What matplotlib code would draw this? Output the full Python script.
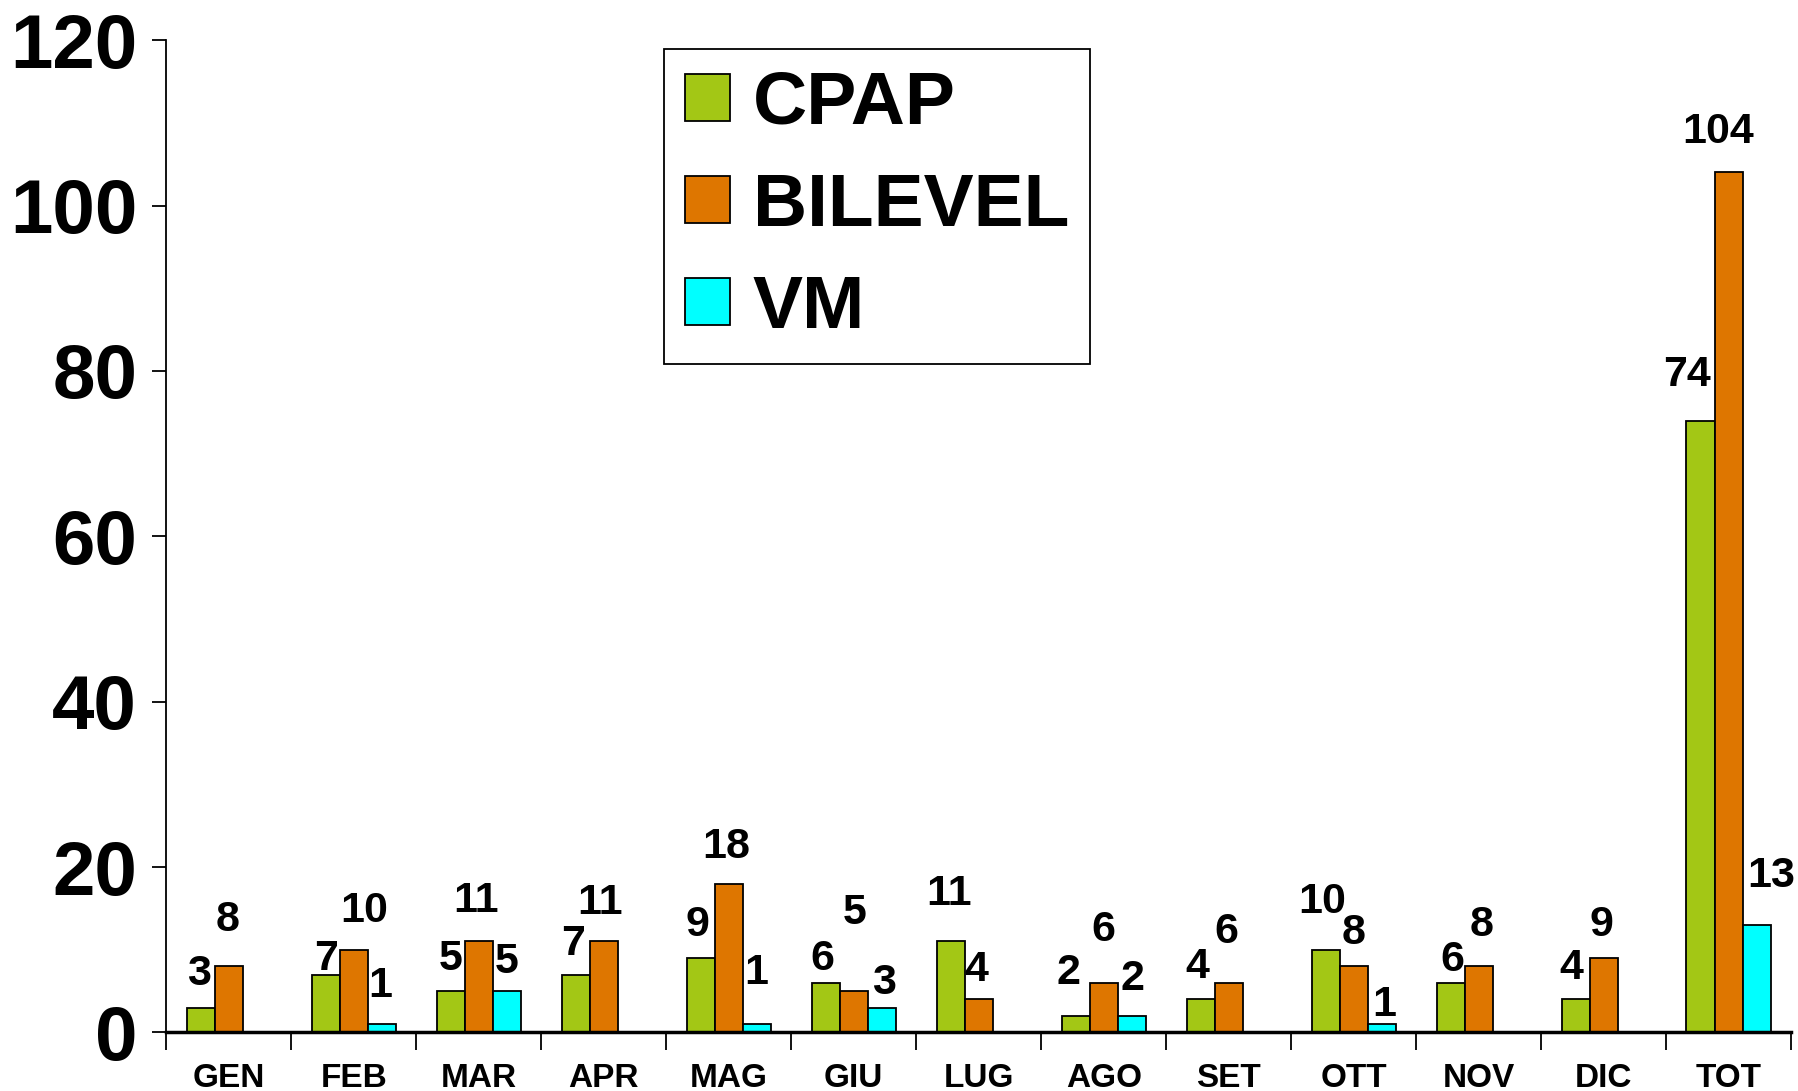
import matplotlib
matplotlib.use("Agg")
import matplotlib.pyplot as plt
import numpy as np

months = ["GEN", "FEB", "MAR", "APR", "MAG", "GIU", "LUG", "AGO", "SET", "OTT", "NOV", "DIC", "TOT"]
cpap = [3, 7, 5, 7, 9, 6, 11, 2, 4, 10, 6, 4, 74]
bilevel = [8, 10, 11, 11, 18, 5, 4, 6, 6, 8, 8, 9, 104]
vm = [0, 1, 5, 0, 1, 3, 0, 2, 0, 1, 0, 0, 13]
series_names = ["CPAP", "BILEVEL", "VM"]
y_ticks = [0, 20, 40, 60, 80, 100, 120]

# styling: data-label nudges (pixels) relative to each bar top, as placed in the original chart
label_dy = [
    [34, 16, 32, 31, 33, 24, 47, 43, 32, 48, 23, 31, 46],
    [46, 39, 40, 38, 37, 78, 29, 53, 51, 33, 41, 33, 40],
    [0, 38, 29, 0, 51, 25, 0, 37, 0, 19, 0, 0, 49],
]
label_dx = [
    [-2, 0, 0, -3, -3, -3, -2, -7, -3, -3, 2, -4, -14],
    [-1, 10, -3, -4, -3, 1, -2, 0, -2, 0, 3, -2, -11],
    [0, -2, 0, 0, -1, 2, 0, 1, 0, 2, 0, 0, 14],
]

colors = ["#A3C715", "#DE7600", "#00FFFF"]

plt.rcParams['font.family'] = ['Liberation Sans', 'DejaVu Sans']
plt.rcParams['font.weight'] = 'bold'

DPI = 100
PX = 72.0 / DPI  # points per pixel

fig = plt.figure(figsize=(17.98, 10.91), dpi=DPI)
ax = fig.add_axes([0.0925, 0.0537, 0.9037, 0.9095])

x = np.arange(len(months))
w = 0.225
for i, (vals, name, col) in enumerate(zip([cpap, bilevel, vm], series_names, colors)):
    pos = x + (i - 1) * w
    idx = [k for k, v in enumerate(vals) if v > 0]
    pv = [pos[k] for k in idx]
    vv = [vals[k] for k in idx]
    ax.bar(pv, vv, width=w, color=col, edgecolor="black", linewidth=1.3, label=name, zorder=2)
    for k, p, v in zip(idx, pv, vv):
        ax.annotate(str(v), (p, v),
                    xytext=(label_dx[i][k] * PX, label_dy[i][k] * PX), textcoords="offset points",
                    ha="center", va="center", fontsize=31, fontweight="bold")

ax.set_xlim(-0.5, len(months) - 0.5)
ax.set_ylim(0, 120)
ax.set_yticks(y_ticks)
ax.set_yticklabels([str(t) for t in y_ticks], fontsize=55, fontweight="bold")
ax.tick_params(axis="y", direction="out", length=10, width=1.3, pad=11)

ax.set_xticks(x)
ax.set_xticklabels(months, fontsize=24, fontweight="bold")
ax.set_xticks(np.arange(-0.5, len(months)), minor=True)
ax.tick_params(axis="x", which="major", length=0, pad=22)
ax.tick_params(axis="x", which="minor", direction="out", length=13, width=1.3)

for s in ["top", "right"]:
    ax.spines[s].set_visible(False)
ax.spines["left"].set_linewidth(1.3)
ax.spines["bottom"].set_linewidth(2.5)
ax.spines["bottom"].set_zorder(3)

leg = ax.legend(loc="upper left", bbox_to_anchor=(664 / 1798, 1 - 49 / 1091),
                bbox_transform=fig.transFigure, borderaxespad=0,
                prop={"size": 54, "weight": "bold"}, frameon=True, fancybox=False,
                edgecolor="black", framealpha=1, handlelength=0.6, handleheight=0.6,
                handletextpad=0.3, labelspacing=0.44, borderpad=0.28)
leg.get_frame().set_linewidth(1.3)

fig.savefig("out.png", dpi=DPI)
